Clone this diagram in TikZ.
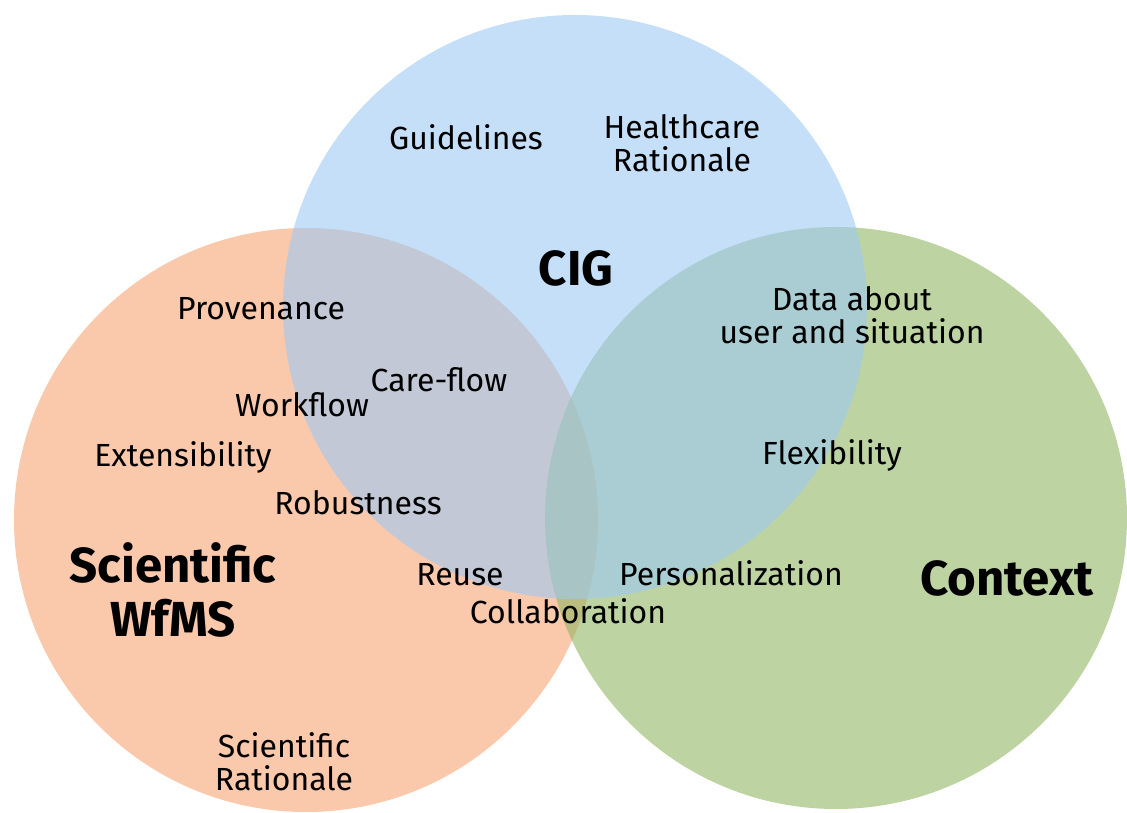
\documentclass[tikz,border=0pt]{standalone}
\usepackage{fontspec}
\setmainfont{Fira Sans}
\usetikzlibrary{positioning}
\definecolor{wfmsorange}{RGB}{247,163,115}
\definecolor{ctxgreen}{RGB}{145,182,100}
\definecolor{cigblue}{RGB}{158,202,243}
\tikzset{%
  set/.style = {fill opacity=0.6},
  item/.style = {align=center, inner sep=0pt,
        font=\fontsize{18.2}{19}\selectfont},
  title/.style = {align=center, inner sep=0pt,
        font=\fontsize{28}{30.5}\selectfont\bfseries}
}
\begin{document}
\begin{tikzpicture}[x=0.02cm,y=-0.02cm]
\useasboundingbox (0,0) rectangle (1127,813);
% the three sets
\fill[wfmsorange,set] (306,520) circle[radius=292];
\fill[ctxgreen,set] (836,518) circle[radius=291];
\fill[cigblue,set] (575,307) circle[radius=292];
% CIG
\node[item] (guide) at (466,137) {Guidelines};
\node[item] (hrat) at (682,143) {Healthcare\\Rationale};
\node[title] (cig) at (576,268) {CIG};
% Scientific WfMS
\node[item] (prov) at (261,309) {Provenance};
\node[item] (ext) at (183,457) {Extensibility};
\node[title] (wfms) at (173,590) {Scientific\\WfMS};
\node[item] (srat) at (284,762) {Scientific\\Rationale};
% Context
\node[item] (data) at (852,315) {Data about\\user and situation};
\node[title] (ctx) at (1007,578) {Context};
% overlaps
\node[item] (care) at (439,380) {Care-flow};
\node[item] (work) at (302,405) {Workflow};
\node[item] (rob) at (358,503) {Robustness};
\node[item] (flex) at (832,455) {Flexibility};
\node[item] (reuse) at (460,575) {Reuse};
\node[item] (pers) at (731,573) {Personalization};
\node[item] (collab) at (568,611) {Collaboration};
\end{tikzpicture}
\end{document}
